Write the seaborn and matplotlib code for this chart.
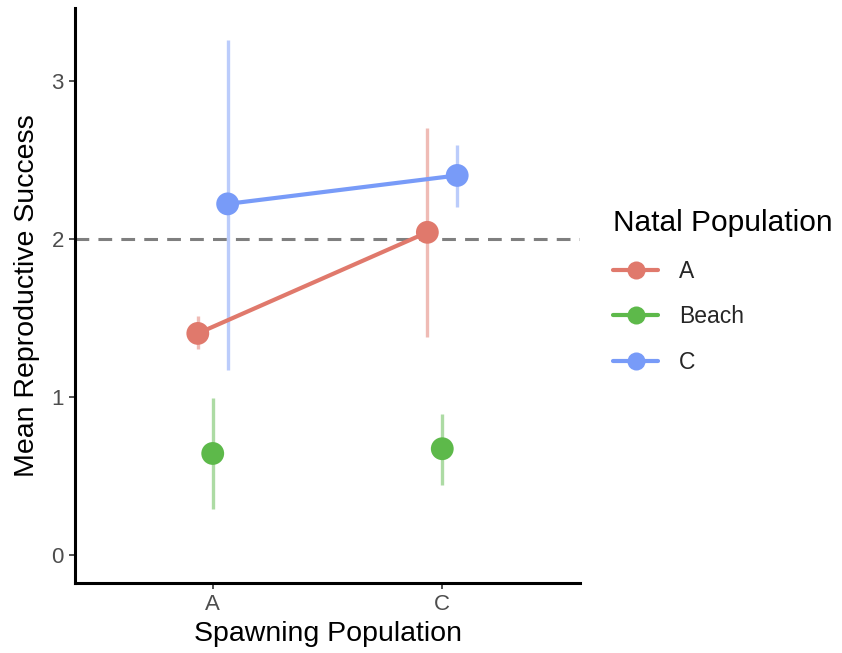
import matplotlib
matplotlib.use("Agg")
import matplotlib.pyplot as plt
import seaborn as sns
import pandas as pd
import numpy as np
from matplotlib.lines import Line2D

spawning = ["A", "C"]
natal = ["A", "Beach", "C"]
mean_A = [1.40, 2.04]
lo_A = [1.30, 1.38]
hi_A = [1.51, 2.70]
mean_Beach = [0.64, 0.67]
lo_Beach = [0.29, 0.44]
hi_Beach = [0.99, 0.89]
mean_C = [2.22, 2.40]
lo_C = [1.17, 2.20]
hi_C = [3.26, 2.59]
colors = {"A": "#E0796C", "Beach": "#5DB94A", "C": "#789BF8"}

rows = []
for n, m, lo, hi in [("A", mean_A, lo_A, hi_A), ("Beach", mean_Beach, lo_Beach, hi_Beach), ("C", mean_C, lo_C, hi_C)]:
    for i, s in enumerate(spawning):
        rows.append(dict(spawn=s, natal=n, mean=m[i], lo=lo[i], hi=hi[i]))
df = pd.DataFrame(rows)
offsets = {"A": -0.065, "Beach": 0.0, "C": 0.065}
df["x"] = df["spawn"].map({s: i for i, s in enumerate(spawning)}) + df["natal"].map(offsets)

sns.set_theme(style="ticks")
plt.rcParams['font.family'] = ['Liberation Sans', 'DejaVu Sans']

fig = plt.figure(figsize=(8.42, 6.53), dpi=100)
ax = fig.add_axes([75/842, 1-583/653, 505/842, 575/653])

ax.axhline(2, color="#7F7F7F", lw=2.2, ls=(0, (4.5, 3)), zorder=1)
for n in natal:
    d = df[df.natal == n]
    ax.vlines(d["x"], d["lo"], d["hi"], color=colors[n], alpha=0.5, lw=2.4, zorder=2)
sns.lineplot(data=df[df.natal != "Beach"], x="x", y="mean", hue="natal", palette=colors,
             lw=3.0, legend=False, ax=ax, zorder=3)
sns.scatterplot(data=df, x="x", y="mean", hue="natal", palette=colors, s=270, linewidth=0,
                legend=False, ax=ax, zorder=4)

ax.set_xlim(-0.6, 1.6)
ax.set_ylim(-0.18, 3.46)
ax.set_xticks(range(len(spawning)))
ax.set_xticklabels(spawning)
ax.set_yticks([0, 1, 2, 3])
ax.set_yticklabels(["0", "1", "2", "3"])
ax.set_xlabel("Spawning Population", fontsize=20.5, color="black", labelpad=4)
ax.set_ylabel("Mean Reproductive Success", fontsize=20.5, color="black", labelpad=8)
ax.tick_params(axis="both", colors="#333333", labelcolor="#4D4D4D", labelsize=16, length=4, width=1.2, pad=4)
for sp in ["top", "right"]:
    ax.spines[sp].set_visible(False)
for sp in ["left", "bottom"]:
    ax.spines[sp].set_linewidth(2.2)
    ax.spines[sp].set_color("black")

handles = [Line2D([0], [0], color=colors[n], lw=3.0, marker="o", markersize=13, markeredgewidth=0) for n in natal]
leg = fig.legend(handles, natal, title="Natal Population", loc="upper left",
                 bbox_to_anchor=(592/842, 1-188/653), frameon=False, fontsize=16.5,
                 title_fontsize=21.5, handlelength=2.0, labelspacing=1.0, handletextpad=0.9)
leg._legend_box.align = "left"
leg.get_title().set_color("black")

fig.savefig("out.png", dpi=100)
